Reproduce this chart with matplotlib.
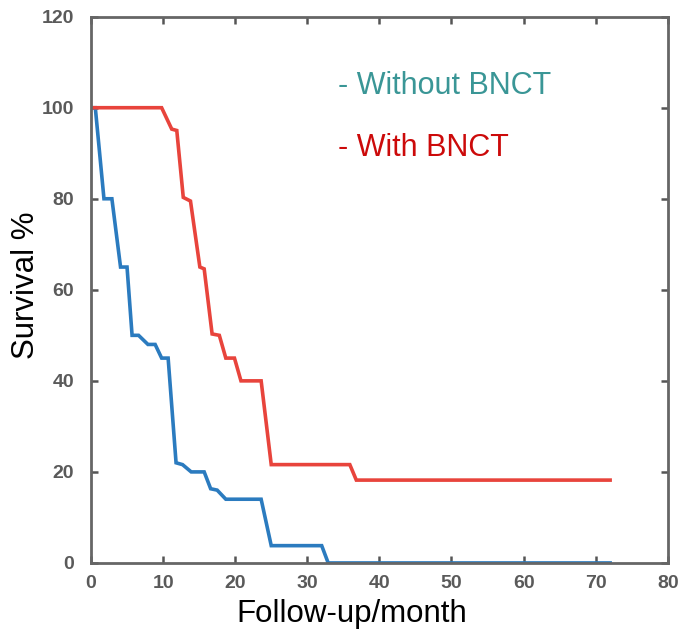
import matplotlib
matplotlib.use("Agg")
import matplotlib.pyplot as plt

# Data (months, survival %)
without_x = [0, 0.6, 1.8, 2.9, 4.1, 5.0, 5.7, 6.6, 7.9, 8.9, 9.8, 10.7, 11.8, 12.7, 13.9, 15.7,
             16.6, 17.5, 18.7, 23.6, 25.0, 32.0, 32.9, 72.0]
without_y = [100, 100, 80, 80, 65, 65, 50, 50, 48, 48, 45, 45, 22, 21.6, 20, 20,
             16.3, 16, 14, 14, 3.8, 3.8, 0, 0]

with_x = [0, 9.8, 11.2, 11.9, 12.8, 13.8, 15.1, 15.7, 16.8, 17.8, 18.7, 19.9, 20.8, 23.6,
          25.0, 35.9, 36.8, 72.0]
with_y = [100, 100, 95.3, 95, 80.3, 79.5, 65, 64.6, 50.3, 50, 45, 45, 40, 40,
          21.6, 21.6, 18.2, 18.2]

x_ticks = [0, 10, 20, 30, 40, 50, 60, 70, 80]
y_ticks = [0, 20, 40, 60, 80, 100, 120]

plt.rcParams['font.family'] = ['Liberation Sans', 'DejaVu Sans']

fig = plt.figure(figsize=(6.81, 6.29), dpi=100)
ax = fig.add_axes([0.1336, 0.105, 0.847, 0.8685])

ax.plot(without_x, without_y, color='#2b7bbf', lw=2.6, solid_joinstyle='miter')
ax.plot(with_x, with_y, color='#e8443c', lw=2.6, solid_joinstyle='miter')

ax.set_xlim(0, 80)
ax.set_ylim(0, 120)
ax.set_xticks(x_ticks)
ax.set_yticks(y_ticks)
ax.tick_params(direction='in', length=5, width=1.8, color='#555555',
               top=True, right=True, labelsize=14, labelcolor='#5a5a5a')
ax.tick_params(axis='y', pad=12)
ax.tick_params(axis='x', pad=9)
for lab in ax.get_xticklabels() + ax.get_yticklabels():
    lab.set_fontweight('bold')
for s in ax.spines.values():
    s.set_color('#666666')
    s.set_linewidth(2)

ax.set_xlabel('Follow-up/month', fontsize=22.5)
ax.set_ylabel('Survival %', fontsize=22.5)
ax.xaxis.set_label_coords(0.452, -0.066, transform=ax.transAxes)
ax.yaxis.set_label_coords(-0.086, 0.508, transform=ax.transAxes)
ax.xaxis.label.set_va('top')
ax.yaxis.label.set_va('bottom')

ax.text(0.428, 0.874, '- Without BNCT', transform=ax.transAxes, fontsize=22,
        color='#3a9696', va='center', ha='left')
ax.text(0.428, 0.760, '- With BNCT', transform=ax.transAxes, fontsize=22,
        color='#cc0a0a', va='center', ha='left')

fig.savefig('out.png', dpi=100)
